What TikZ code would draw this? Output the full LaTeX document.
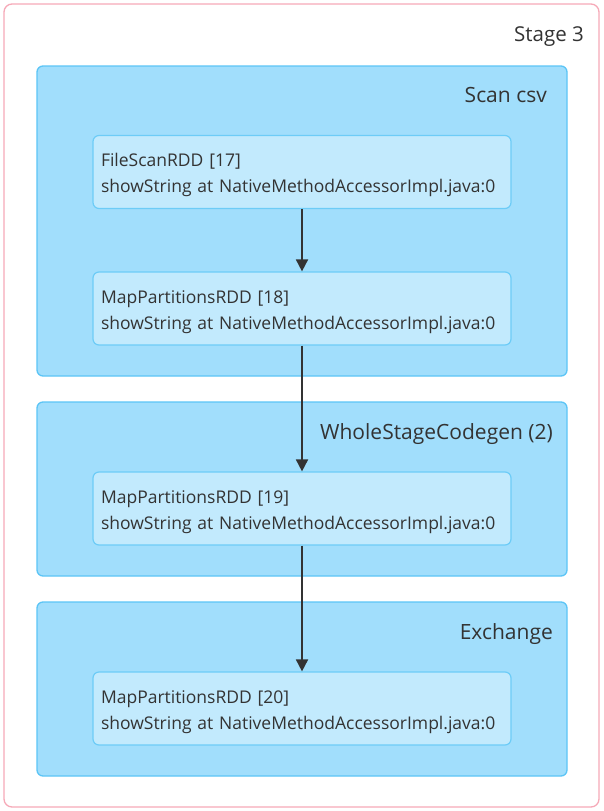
\documentclass[tikz,border=0pt]{standalone}
\usepackage{fontspec}
\setmainfont{Open Sans}
\usepackage{xcolor}
\usepackage{tikz}
\usetikzlibrary{positioning,arrows.meta}
\definecolor{stageline}{HTML}{F6A9B8}
\definecolor{clusterfill}{HTML}{A1DEFC}
\definecolor{clusterline}{HTML}{5CC5F6}
\definecolor{rddfill}{HTML}{C2EAFD}
\definecolor{rddline}{HTML}{6DCCF7}
\definecolor{textcol}{HTML}{333333}

\begin{document}
\begin{tikzpicture}[x=1pt,y=-1pt,
    stagebox/.style={draw=stageline,fill=white,line width=1.3pt,rounded corners=8pt,minimum width=595pt,minimum height=803pt},
    clusterbox/.style={draw=clusterline,fill=clusterfill,line width=1.3pt,rounded corners=6pt,minimum width=530pt},
    rddbox/.style={draw=rddline,fill=rddfill,line width=1.2pt,rounded corners=6pt,minimum width=418pt,minimum height=73pt,text width=402pt,align=left,inner sep=8pt,text=textcol,font=\fontsize{17.5}{26}\selectfont},
    clusterlabel/.style={anchor=base east,text=textcol,inner sep=0pt,font=\fontsize{21}{24}\selectfont},
    flow/.style={draw=textcol,line width=1.8pt,-{Triangle[length=12pt,width=12pt]}}
]
\useasboundingbox (0,0) rectangle (603,811);
\node[stagebox] (stage) at (301.5,405.5) {};
\node[clusterlabel,font=\fontsize{20.5}{24}\selectfont] (stagelabel) at (584,41) {Stage 3};
% clusters
\node[clusterbox,minimum height=310pt] (scan) at (302,221) {};
\node[clusterlabel] (scanlabel) at (547,102) {Scan csv};
\node[clusterbox,minimum height=174pt] (codegen) at (302,489) {};
\node[clusterlabel] (codegenlabel) at (553,439) {WholeStageCodegen (2)};
\node[clusterbox,minimum height=174pt] (exchange) at (302,689) {};
\node[clusterlabel] (exchangelabel) at (553,639) {Exchange};
% rdds
\node[rddbox] (rdd17) at (302,172) {\rule{0pt}{20pt}FileScanRDD [17]\\showString at NativeMethodAccessorImpl.java:0};
\node[rddbox] (rdd18) at (302,308.5) {\rule{0pt}{20pt}MapPartitionsRDD [18]\\showString at NativeMethodAccessorImpl.java:0};
\node[rddbox] (rdd19) at (302,508.5) {\rule{0pt}{20pt}MapPartitionsRDD [19]\\showString at NativeMethodAccessorImpl.java:0};
\node[rddbox] (rdd20) at (302,708.5) {\rule{0pt}{20pt}MapPartitionsRDD [20]\\showString at NativeMethodAccessorImpl.java:0};
\draw[flow] (rdd17) -- (rdd18);
\draw[flow] (rdd18) -- (rdd19);
\draw[flow] (rdd19) -- (rdd20);
\end{tikzpicture}
\end{document}
